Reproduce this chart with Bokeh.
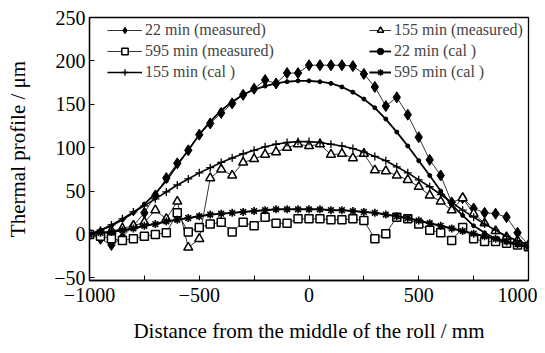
from bokeh.plotting import figure
from bokeh.models import Range1d, Legend, LegendItem, FixedTicker
from bokeh.embed import file_html
from bokeh.resources import INLINE

# positions along the roll (mm)
x_pos = [-1000, -950, -900, -850, -800, -750, -700, -650, -600, -550, -500,
         -450, -400, -350, -300, -250, -200, -150, -100, -50, 0,
         50, 100, 150, 200, 250, 300, 350, 400, 450, 500,
         550, 600, 650, 700, 750, 800, 850, 900, 950, 1000]

meas_22 = [0, -5, -12, -3, 10, 25, 45, 65, 82, 97, 115,
           128, 140, 151, 161, 168, 178, 174, 186, 186, 195,
           195, 195, 195, 194, 185, 170, 148, 158, 138, 112,
           86, 68, 37, 42, 30, 25, 24, 20, 2, -12]

meas_155 = [0, 2, 4, 7, 10, 14, 28, 18, 38, -15, -5,
            65, 75, 68, 83, 87, 92, 95, 100, 104, 102,
            104, 92, 93, 88, 93, 74, 73, 68, 63, 55,
            45, 38, 28, 42, 24, 13, 4, -3, -7, -14]

meas_595 = [0, -2, -5, -7, -5, -2, 0, 2, 25, 3, 8,
            12, 14, 3, 14, 10, 20, 13, 13, 18, 18,
            18, 17, 17, 18, 16, -5, 1, 20, 18, 12,
            5, 2, -7, 8, -5, -8, -8, -10, -12, -14]

cal_22 = [0, 5, 10, 17, 25, 35, 47, 62, 80, 97, 115,
          130, 143, 153, 161, 167, 171, 174, 176, 177, 177,
          176, 174, 170, 164, 156, 146, 133, 118, 102, 85,
          68, 50, 34, 22, 10, 2, -5, -9, -12, -15]

cal_155 = [0, 5, 11, 18, 26, 33, 41, 49, 57, 64, 71,
           77, 83, 88, 93, 97, 101, 104, 106, 107, 107,
           106, 104, 102, 99, 95, 90, 85, 78, 71, 63,
           55, 46, 37, 28, 20, 12, 5, -2, -7, -12]

cal_595 = [0, 2, 3, 5, 7, 10, 12, 15, 17, 19, 21,
           23, 24, 25, 26, 27, 28, 29, 29, 29, 29,
           29, 28, 28, 27, 26, 25, 23, 21, 19, 16,
           13, 10, 7, 4, 1, -2, -5, -8, -11, -14]

x_ticks = [-1000, -500, 0, 500, 1000]
y_ticks = [-50, 0, 50, 100, 150, 200, 250]

FONT = "Liberation Serif"

p = figure(width=537, height=345, output_backend="svg", toolbar_location=None,
           x_range=Range1d(-1000, 1000), y_range=Range1d(-53, 250),
           min_border_left=89, min_border_right=9, min_border_top=17,
           min_border_bottom=65)
p.grid.visible = False
p.outline_line_color = "black"
p.outline_line_width = 1.3
p.background_fill_color = "white"

# measured
r_m22_l = p.line(x_pos, meas_22, line_color="black", line_width=0.8)
r_m22_s = p.scatter(x_pos, meas_22, marker="diamond", size=11, fill_color="black", line_color="black")
r_m155_l = p.line(x_pos, meas_155, line_color="black", line_width=0.8)
r_m155_s = p.scatter(x_pos, meas_155, marker="triangle", size=9, fill_color="white", line_color="black", line_width=1.5)
r_m595_l = p.line(x_pos, meas_595, line_color="black", line_width=0.8)
r_m595_s = p.scatter(x_pos, meas_595, marker="square", size=8, fill_color="white", line_color="black", line_width=1.5)

# calculated
r_c22_l = p.line(x_pos, cal_22, line_color="black", line_width=1.8)
r_c22_s = p.scatter(x_pos, cal_22, marker="circle", size=4, fill_color="black", line_color="black")
r_c155_l = p.line(x_pos, cal_155, line_color="black", line_width=1.6)
r_c155_s = p.scatter(x_pos, cal_155, marker="cross", size=8, line_color="black", line_width=1.3)
r_c595_l = p.line(x_pos, cal_595, line_color="black", line_width=2.0)
r_c595_s = p.scatter(x_pos, cal_595, marker="asterisk", size=8, line_color="black", line_width=1.6)

# axes
for ax in (p.xaxis[0], p.yaxis[0]):
    ax.major_label_text_font = FONT
    ax.major_label_text_font_size = "20px"
    ax.major_label_text_color = "black"
    ax.axis_label_text_font = FONT
    ax.axis_label_text_font_size = "21px"
    ax.axis_label_text_font_style = "normal"
    ax.axis_label_text_color = "black"
    ax.axis_line_color = "black"
    ax.axis_line_width = 1.3
    ax.major_tick_in = 5
    ax.major_tick_out = 0
    ax.minor_tick_in = 5
    ax.minor_tick_out = 0

p.xaxis.ticker = FixedTicker(ticks=x_ticks, minor_ticks=[-750, -250, 250, 750])
p.yaxis.ticker = FixedTicker(ticks=y_ticks, minor_ticks=[])
p.xaxis.axis_label = "Distance from the middle of the roll / mm"
p.yaxis.axis_label = "Thermal profile / \u03bcm"
p.xaxis.major_label_standoff = 7
p.yaxis.major_label_standoff = 4
p.xaxis.axis_label_standoff = 14
p.yaxis.axis_label_standoff = 21
p.xaxis.major_label_overrides = {t: (str(t).replace("-", "\u2212")) for t in x_ticks}
p.yaxis.major_label_overrides = {t: (str(t).replace("-", "\u2212")) for t in y_ticks}

def make_legend(items, loc, gw):
    lg = Legend(items=items, location=loc, margin=0, padding=0,
                border_line_alpha=0, background_fill_alpha=0,
                label_text_font=FONT, label_text_font_size="16px",
                glyph_width=gw, glyph_height=16, label_height=16,
                label_standoff=3, spacing=3)
    return lg

left_items = [
    LegendItem(label="22 min (measured)", renderers=[r_m22_l, r_m22_s]),
    LegendItem(label="595 min (measured)", renderers=[r_m595_l, r_m595_s]),
    LegendItem(label="155 min (cal )", renderers=[r_c155_l, r_c155_s]),
]
right_items = [
    LegendItem(label="155 min (measured)", renderers=[r_m155_l, r_m155_s]),
    LegendItem(label="22 min (cal )", renderers=[r_c22_l, r_c22_s]),
    LegendItem(label="595 min (cal )", renderers=[r_c595_l, r_c595_s]),
]
p.add_layout(make_legend(left_items, (18, 199), 35))
p.add_layout(make_legend(right_items, (280, 199), 22))

open("out.html", "w").write(file_html(p, INLINE))
